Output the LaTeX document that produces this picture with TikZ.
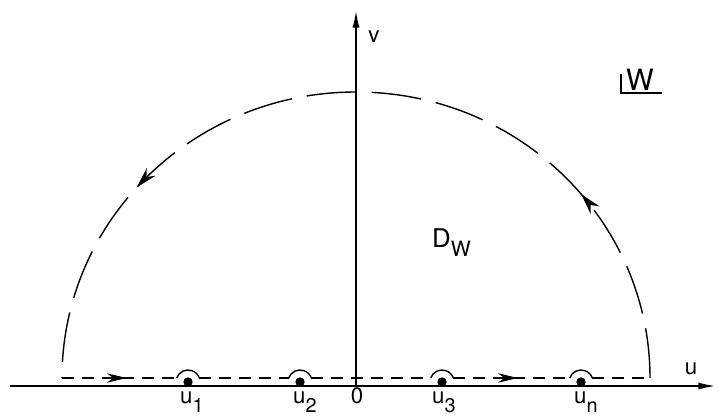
\documentclass[tikz,border=0pt]{standalone}
\usepackage{fontspec}
\setmainfont{TeX Gyre Heros}
\usetikzlibrary{arrows.meta,decorations.markings,calc}
\newcommand{\lsub}[2][17]{\raisebox{-7pt}{\fontsize{#1}{#1}\selectfont #2}}

\begin{document}
\begin{tikzpicture}[x=0.03cm,y=0.03cm,
  axis/.style={line width=1.7pt,-{Latex[length=15pt,width=6pt]}},
  contour/.style={line width=1.2pt},
  ptdot/.style={circle,fill,inner sep=0pt,minimum size=8pt},
  lbl/.style={anchor=base west,inner sep=0pt,font=\fontsize{19}{19}\selectfont}]
\useasboundingbox (0,0) rectangle (718,418);

\node[ptdot] (u1) at (188,36) {};
\node[ptdot] (u2) at (300,36) {};
\node[ptdot] (u3) at (442,36) {};
\node[ptdot] (un) at (581,36) {};
\coordinate (O) at (356,32);
\coordinate (ustart) at (10,32);
\coordinate (uend) at (716,32);
\coordinate (vend) at (356,408);
\coordinate (a) at (62,40);
\coordinate (b) at (650,40);

\draw[axis] (ustart) -- (uend);
\draw[axis] (O) -- (vend);

\draw[contour,dash pattern=on 0.36cm off 0.24cm,postaction={decorate},
  decoration={markings,
    mark=at position 0.13 with {\arrow{Stealth[length=17pt,width=8pt]}},
    mark=at position 0.78 with {\arrow{Stealth[length=17pt,width=8pt]}}}]
  (a) \foreach \p in {u1,u2,u3,un} { -- ($(\p)+(-11.3,4)$) ($(\p)+(11.3,4)$) } -- (b);
\foreach \p in {u1,u2,u3,un}
  \draw[contour] ($(\p)+(-11.3,4)$) arc[start angle=160.5,end angle=19.5,radius=12];
\draw[contour,dash pattern=on 1.5cm off 0.45cm,postaction={decorate},
  decoration={markings,
    mark=at position 0.22 with {\arrow{Stealth[length=18pt,width=10pt]}},
    mark=at position 0.77 with {\arrow{Stealth[length=18pt,width=10pt]}}}]
  (b) arc[start angle=0,end angle=180,x radius=294,y radius=286];

\node[lbl] (l1) at (180,14) {u\lsub{1}};
\node[lbl] (l2) at (293,14) {u\lsub{2}};
\node[lbl] (l3) at (432,14) {u\lsub{3}};
\node[lbl] (ln) at (574,14) {u\lsub{n}};
\node[lbl,anchor=base] (zero) at (357,14) {0};
\node[lbl,anchor=base] (vlab) at (374,375) {v};
\node[lbl,anchor=base] (ulab) at (691,43) {u};
\node[lbl,font=\fontsize{22}{22}\selectfont] (dw) at (432,170) {D\lsub[18]{W}};
\node[lbl,font=\fontsize{25}{25}\selectfont] (wlab) at (626,327) {W};
\draw[line width=1.3pt] (621,344) -- (621,325) -- (662,325);
\end{tikzpicture}
\end{document}
